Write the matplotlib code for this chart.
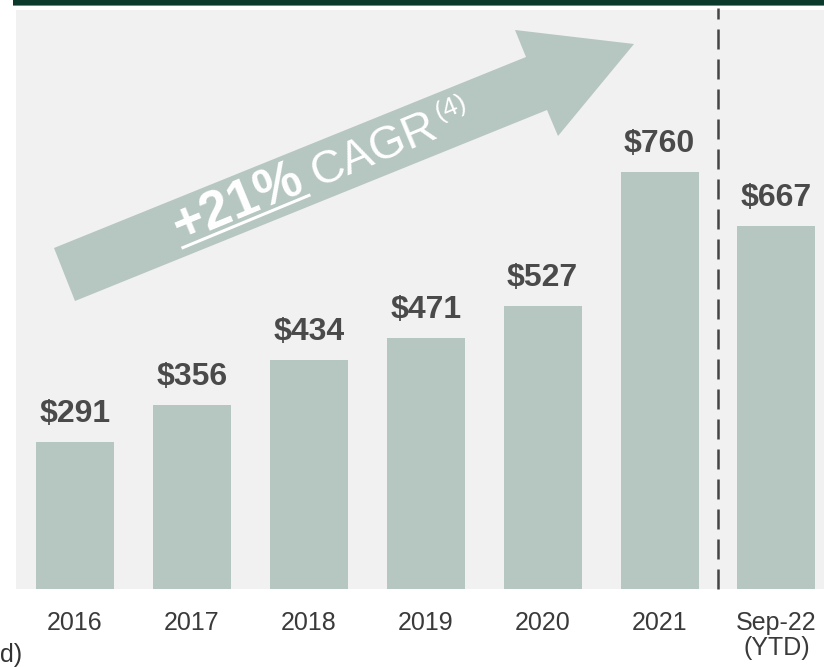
import math
import matplotlib
matplotlib.use("Agg")
import matplotlib.pyplot as plt
from matplotlib.patches import Polygon, Rectangle
from matplotlib.transforms import IdentityTransform
from matplotlib.lines import Line2D

categories = ["2016", "2017", "2018", "2019", "2020", "2021", "Sep-22\n(YTD)"]
values = [291, 356, 434, 471, 527, 760, 667]
value_labels = ["$291", "$356", "$434", "$471", "$527", "$760", "$667"]
cagr_main = "+21%"
cagr_word = "CAGR"
cagr_note = "(4)"
footnote = "d)"

W, H = 824, 667
DPI = 100
BAR = "#b6c6c0"
BG = "#f1f1f1"
DARK = "#0b3a2c"
TXT = "#4a4a4a"
NARROW = ["Liberation Sans Narrow", "Liberation Sans", "DejaVu Sans"]
SANS = ["Liberation Sans", "DejaVu Sans"]

fig = plt.figure(figsize=(W / DPI, H / DPI), dpi=DPI)
fig.patch.set_facecolor("white")

ax = fig.add_axes([16 / W, (H - 589) / H, (W - 16) / W, (589 - 10) / H])
ax.set_facecolor(BG)
x = list(range(len(categories)))
ax.bar(x, values, width=0.667, color=BAR, zorder=2)
ax.set_xlim(-0.505, 6.407)
ax.set_ylim(35.6, 1041.4)
for s in ax.spines.values():
    s.set_visible(False)
ax.set_yticks([])
ax.set_xticks(x)
ax.set_xticklabels(categories, fontfamily=NARROW, fontsize=18, color="#3a3a3a",
                   linespacing=1.05)
ax.tick_params(axis="x", length=0, pad=16)

for xi, v, lab in zip(x, values, value_labels):
    ax.annotate(lab, (xi, v), xytext=(0, 20), textcoords="offset pixels",
                ha="center", va="baseline", fontfamily=SANS, fontweight="bold",
                fontsize=23, color=TXT, zorder=3)

# dashed separator between full years and YTD
ax.axvline(5.5, ymin=0.0, ymax=1.0035, color="#454545", lw=1.8,
           dashes=(8, 4), clip_on=False, zorder=4)

# top band
fig.add_artist(Rectangle((12.7 / W, (H - 5) / H), 1 - 12.7 / W, 5 / H,
                         transform=fig.transFigure, color=DARK, lw=0, zorder=5))
fig.add_artist(Rectangle((12.7 / W, (H - 6) / H), 1 - 12.7 / W, 1 / H,
                         transform=fig.transFigure, color="#6d8c7e", lw=0, zorder=5))

# growth arrow (figure pixel coordinates, origin top-left)
arrow_px = [(54, 248), (526, 57), (515, 30), (634, 44), (558, 136), (547, 110), (75, 301)]
arrow_pts = [(px, H - py) for px, py in arrow_px]
fig.add_artist(Polygon(arrow_pts, closed=True, transform=IdentityTransform(),
                       facecolor=BAR, edgecolor="none", zorder=6))

renderer = fig.canvas.get_renderer()
theta = 22.5
ct, st = math.cos(math.radians(theta)), math.sin(math.radians(theta))


def text_width(s, **kw):
    t = fig.text(0, 0, s, transform=IdentityTransform(), **kw)
    w = t.get_window_extent(renderer).width
    t.remove()
    return w


bx, by = 181.0, H - 243.0
k1 = dict(fontfamily=NARROW, fontweight="bold", fontsize=38, color="white")
k2 = dict(fontfamily=SANS, fontsize=33, color="white")
k3 = dict(fontfamily=SANS, fontsize=19, color="white")

w1 = text_width(cagr_main, **k1)
fig.text(bx, by, cagr_main, transform=IdentityTransform(), rotation=theta,
         rotation_mode="anchor", ha="left", va="baseline", zorder=7, **k1)
ux, uy = bx + 5 * st, by - 5 * ct
fig.add_artist(Line2D([ux, ux + w1 * ct], [uy, uy + w1 * st],
                      transform=IdentityTransform(), color="white", lw=2.2, zorder=7))
gap = 11
cx, cy = bx + (w1 + gap) * ct, by + (w1 + gap) * st
w2 = text_width(cagr_word, **k2)
fig.text(cx, cy, cagr_word, transform=IdentityTransform(), rotation=theta,
         rotation_mode="anchor", ha="left", va="baseline", zorder=7, **k2)
nx = cx + (w2 + 5) * ct - 15 * st
ny = cy + (w2 + 5) * st + 15 * ct
fig.text(nx, ny, cagr_note, transform=IdentityTransform(), rotation=theta,
         rotation_mode="anchor", ha="left", va="baseline", zorder=7, **k3)

fig.text(0, (H - 662) / H, footnote, fontfamily=NARROW, fontsize=18,
         color="#333333", ha="left", va="baseline")

fig.savefig("out.png", dpi=DPI, facecolor="white")
